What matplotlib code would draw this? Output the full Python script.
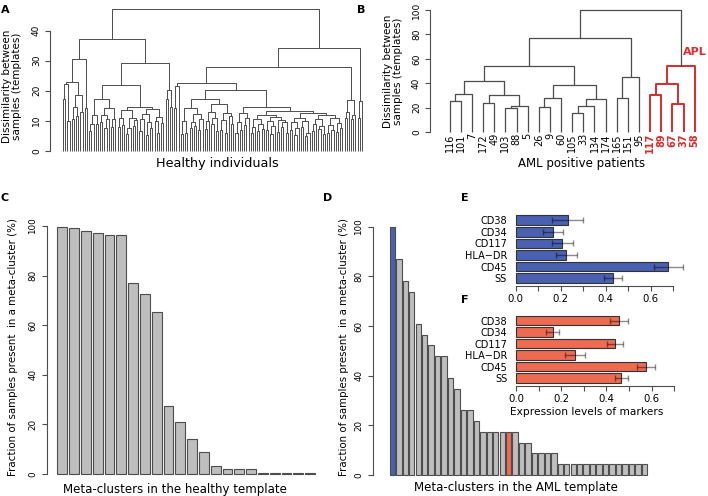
import numpy as np
import matplotlib
matplotlib.use("Agg")
import matplotlib.pyplot as plt

plt.rcParams['font.family'] = ['DejaVu Sans']

W, H = 708, 496

# ---- panel A: healthy template dendrogram (node = (height, left, right), leaf = 0)
L1 = (30.7, (23.0, (22.4, (17.3, 0, 0), (10.0, 0, 0)),
             (18.7, (14.7, (10.5, 0, 0), (11.5, 0, 0)), (13.0, 0, 0))),
      (14.3, 0, 0))
L2a1 = (17.3, (11.9, (8.9, (6.7, 0, 0), 0), (9.0, 0, 0)),
        (14.2, (12.0, (9.5, 0, 0), (10.6, (7.7, 0, 0), 0)), (10.5, (8.0, 0, 0), 0)))
L2a2 = (14.5,
        (13.5, (10.8, (7.8, 0, 0), (8.5, 0, 0)),
         (11.0, (7.5, (5.5, 0, 0), 0), (10.2, (8.2, 0, 0), 0))),
        (13.8, (12.2, (10.5, (6.5, 0, 0), 0), (9.5, (5.2, 0, 0), (7.5, 0, 0))),
         (11.3, (10.0, 0, (6.0, 0, 0)), (9.2, 0, 0))))
L2b = (20.2, (17.3, 0, 0), (14.5, 0, 0))
R1a_left = (21.6, (14.3, 0, 0), 0)
R1a_rl = (17.2,
          (14.2, (10.0, (5.5, 0, 0), (6.0, 0, 0)),
           (12.3, (9.5, (7.5, 0, 0), (8.2, 0, 0)), (10.5, (6.8, 0, 0), 0))),
          (15.5, (13.0, (9.8, (7.2, 0, 0), 0), (11.0, (8.8, 0, 0), (6.5, 0, 0))),
           (12.5, (10.2, (7.0, 0, 0), (5.8, 0, 0)), (11.5, 0, (9.0, 0, 0)))))
X = (12.5, (9.5, (6.0, 0, 0), (7.0, 0, 0)), (10.8, (8.5, 0, 0), 0))
Y1 = (12.0, (10.6, (8.0, (5.8, 0, 0), 0), (9.0, (6.5, 0, 0), (7.2, 0, 0))),
      (11.2, (9.8, (7.0, 0, 0), (8.2, (5.5, 0, 0), 0)),
       (10.4, (6.2, 0, 0), (9.5, (7.8, 0, 0), (6.0, 0, 0)))))
Y2 = (12.5, (11.0, (9.5, (6.8, 0, 0), (7.5, (5.2, 0, 0), 0)),
             (10.0, (8.0, 0, 0), (6.0, (4.8, 0, 0), 0))),
      (11.8, (10.5, (9.0, (6.5, 0, 0), 0), (8.4, (7.2, 0, 0), (5.5, 0, 0))),
       (10.8, (8.5, (5.8, 0, 0), (7.0, 0, 0)), (9.2, (6.2, 0, 0), (7.6, 0, 0)))))
R1b = (16.9, (13.0, (11.0, 0, 0), 0), (12.0, (10.5, 0, 0), 0))
R2 = (16.5, (11.0, 0, 0), 0)
tree_a = (47.2,
          (37.1, L1, (29.3, (22.0, L2a1, L2a2), L2b)),
          (34.3, (27.8, (22.6, R1a_left, (20.4, R1a_rl, (14.7, X, (13.3, Y1, Y2)))), R1b), R2))

# ---- panel B: AML dendrogram
aml_labels = ['116', '101', '7', '172', '49', '103', '88', '5', '26', '9', '60', '105',
              '33', '134', '174', '165', '151', '95', '117', '89', '67', '37', '58']
tree_b_main = (76.8,
               (54.4,
                (41.8, (30.9, (25.7, 0, 0), 0), (30.0, (23.5, 0, 0), (21.3, (19.7, 0, 0), 0))),
                (38.3, (27.6, (20.5, 0, 0), 0), (26.8, (21.3, (15.8, 0, 0), 0), 0))),
               (45.1, (28.1, 0, 0), 0))
tree_b_apl = (53.8, (39.3, (30.1, 0, 0), (22.7, 0, 0)), 0)
root_b = 100

# ---- panel C / D bars
healthy_frac = [99.7, 99.1, 97.8, 97.0, 96.4, 96.4, 77.2, 72.6, 65.5, 27.6, 21.1, 14.0,
                8.7, 3.2, 1.9, 1.9, 1.9, 0.5, 0.5, 0.5, 0.5, 0.5]
aml_frac = [100, 87.0, 78.3, 73.9, 60.9, 56.5, 52.2, 47.8, 47.8, 39.1, 34.8, 26.1, 26.1,
            21.7, 17.4, 17.4, 17.4, 17.4, 17.4, 17.4, 13.0, 13.0, 8.7, 8.7, 8.7, 8.7,
            4.3, 4.3, 4.3, 4.3, 4.3, 4.3, 4.3, 4.3, 4.3, 4.3, 4.3, 4.3, 4.3, 4.3]
blue_idx, red_idx = 0, 18

# ---- panel E / F marker expression
markers = ['CD38', 'CD34', 'CD117', 'HLA\u2212DR', 'CD45', 'SS']
expr_e = [0.231, 0.167, 0.207, 0.224, 0.678, 0.431]
err_e = [0.068, 0.045, 0.046, 0.047, 0.065, 0.040]
expr_f = [0.454, 0.162, 0.439, 0.262, 0.576, 0.465]
err_f = [0.040, 0.028, 0.036, 0.045, 0.040, 0.029]

blue = '#4A60B0'
red_bar = '#EE6A50'
apl_red = '#DD2A2A'
line_gray = '#4d4d4d'


def box(x0, y0, x1, y1):
    return [x0 / W, 1 - y1 / H, (x1 - x0) / W, (y1 - y0) / H]


def draw_tree(ax, node, pos, color, lw):
    if not isinstance(node, tuple):
        x = pos[0]
        pos[0] += 1
        return x, 0.0
    h, a, b = node
    xa, ha = draw_tree(ax, a, pos, color, lw)
    xb, hb = draw_tree(ax, b, pos, color, lw)
    ax.plot([xa, xa, xb, xb], [ha, h, h, hb], color=color, lw=lw, solid_capstyle='butt')
    return (xa + xb) / 2, h


def r_axis(ax, ticks, lo, hi, labelsize=6.3):
    for s in ['top', 'right', 'bottom']:
        ax.spines[s].set_visible(False)
    ax.spines['left'].set_bounds(lo, hi)
    ax.spines['left'].set_color(line_gray)
    ax.spines['left'].set_linewidth(0.8)
    ax.set_yticks(ticks)
    ax.tick_params(axis='y', length=3.5, width=0.8, color=line_gray, labelsize=labelsize,
                   labelrotation=90, pad=3)
    for t in ax.get_yticklabels():
        t.set_va('center')
    ax.set_xticks([])


fig = plt.figure(figsize=(W / 100, H / 100), dpi=100)

# A
axA = fig.add_axes(box(50, 6.7, 366, 153.7))
draw_tree(axA, tree_a, [0], line_gray, 0.7)
n_a = 138
sp = (362 - 63) / (n_a - 1)
axA.set_xlim(-13 / sp, n_a - 1 + 4 / sp)
axA.set_ylim(-1, 48)
r_axis(axA, [0, 10, 20, 30, 40], 0, 40, labelsize=6.5)
fig.text(12 / W, 1 - 86 / H, 'Dissimilarity between\nsamples (templates)', rotation=90,
         ha='center', va='center', fontsize=7.5, linespacing=1.05)
fig.text(217 / W, 1 - 164 / H, 'Healthy individuals', ha='center', va='center', fontsize=9.2)

# B
axB = fig.add_axes(box(430, 7.56, 705, 134.4))
xm, hm = draw_tree(axB, tree_b_main, [0], line_gray, 0.9)
pos = [len(aml_labels) - 5]
xa, ha = draw_tree(axB, tree_b_apl, pos, apl_red, 1.4)
axB.plot([xm, xm, xa, xa], [hm, root_b, root_b, ha], color=line_gray, lw=0.9)
spb = (694.7 - 449.7) / 22
axB.set_xlim(-19.7 / spb, 22 + 10.3 / spb)
axB.set_ylim(-2, 102)
r_axis(axB, [0, 20, 40, 60, 80, 100], 0, 100, labelsize=6.5)
for i, lab in enumerate(aml_labels):
    apl = i >= len(aml_labels) - 5
    axB.text(i, -1, lab, rotation=90, ha='center', va='top', fontsize=7,
             color=apl_red if apl else 'black', fontweight='bold' if apl else 'normal',
             clip_on=False)
axB.text(22.0, 65.5, 'APL', color=apl_red, fontweight='bold', fontsize=8,
         ha='center', va='center')
fig.text(393 / W, 1 - 71 / H, 'Dissimilarity between\nsamples (templates)', rotation=90,
         ha='center', va='center', fontsize=7.5, linespacing=1.05)
fig.text(582 / W, 1 - 164 / H, 'AML positive patients', ha='center', va='center', fontsize=8.5)

# C
axC = fig.add_axes(box(46.5, 215, 326, 478))
xc = 0.2 + 1.2 * np.arange(len(healthy_frac))
axC.bar(xc, healthy_frac, width=1.0, align='edge', color='#BEBEBE', edgecolor=line_gray, lw=0.8)
spc = (315 - 57.3) / 26.2
axC.set_xlim(0.2 - (57.3 - 46.5) / spc, 0.2 + (326 - 57.3) / spc)
axC.set_ylim(-(478 - 474) / 2.48, (474 - 215) / 2.48)
r_axis(axC, [0, 20, 40, 60, 80, 100], 0, 100)
fig.text(13 / W, 1 - 347 / H, 'Fraction of samples present  in a meta-cluster (%)',
         rotation=90, ha='center', va='center', fontsize=7.4)
fig.text(175 / W, 1 - 489 / H, 'Meta-clusters in the healthy template', ha='center',
         va='center', fontsize=8.5)

# D
axD = fig.add_axes(box(372.5, 215, 660, 478))
xd = 0.2 + 1.2 * np.arange(len(aml_frac))
colors = ['#BEBEBE'] * len(aml_frac)
colors[blue_idx] = blue
colors[red_idx] = red_bar
axD.bar(xd, aml_frac, width=1.0, align='edge', color=colors, edgecolor=line_gray, lw=0.8)
spd = (647 - 389.7) / 47.8
axD.set_xlim(0.2 - (389.7 - 372.5) / spd, 0.2 + (660 - 389.7) / spd)
axD.set_ylim(-(478 - 475) / 2.483, (475 - 215) / 2.483)
r_axis(axD, [0, 20, 40, 60, 80, 100], 0, 100)
fig.text(344 / W, 1 - 347 / H, 'Fraction of samples present  in a meta-cluster (%)',
         rotation=90, ha='center', va='center', fontsize=7.4)
fig.text(516 / W, 1 - 488 / H, 'Meta-clusters in the AML template', ha='center',
         va='center', fontsize=8.5)


def marker_panel(rect, vals, errs, color, ylo, yhi, x0px, scale):
    ax = fig.add_axes(rect)
    y = np.arange(len(markers))[::-1]
    ax.barh(y, vals, height=0.833, color=color, edgecolor='#333333', lw=0.8)
    ax.errorbar(vals, y, xerr=errs, fmt='none', ecolor=(0, 0, 0, 0.45), elinewidth=1.0,
                capsize=2.5, capthick=1.0)
    left_px = rect[0] * W
    right_px = (rect[0] + rect[2]) * W
    ax.set_xlim((left_px - x0px) / scale, (right_px - x0px) / scale)
    ax.set_ylim(ylo, yhi)
    for s in ['top', 'right', 'left']:
        ax.spines[s].set_visible(False)
    ax.spines['bottom'].set_bounds(0, 0.7)
    ax.spines['bottom'].set_color(line_gray)
    ax.spines['bottom'].set_linewidth(0.8)
    ax.set_xticks(np.arange(0, 0.71, 0.1))
    ax.set_xticklabels(['0.0', '', '0.2', '', '0.4', '', '0.6', ''])
    ax.tick_params(axis='x', length=3.5, width=0.8, color=line_gray, labelsize=7.3, pad=2)
    ax.set_yticks(y)
    ax.set_yticklabels(markers)
    ax.tick_params(axis='y', length=0, labelsize=7, pad=1.5)
    return ax


marker_panel(box(509, 205, 690, 286), expr_e, err_e, blue, -0.674, 5 + 15.3 / 11.58, 515.7, 225)
marker_panel(box(509.5, 310, 690, 386), expr_f, err_f, red_bar, -0.70, 5 + 10.7 / 11.46, 516, 226)
fig.text(587 / W, 1 - 412 / H, 'Expression levels of markers', ha='center', va='center',
         fontsize=7.7)

for lab, x, y in [('A', 5, 10), ('B', 361, 10), ('C', 5, 198), ('D', 328, 198),
                  ('E', 465, 198), ('F', 465, 300)]:
    fig.text(x / W, 1 - y / H, lab, fontweight='bold', fontsize=8, ha='center', va='center')

fig.savefig('out.png', dpi=100)
